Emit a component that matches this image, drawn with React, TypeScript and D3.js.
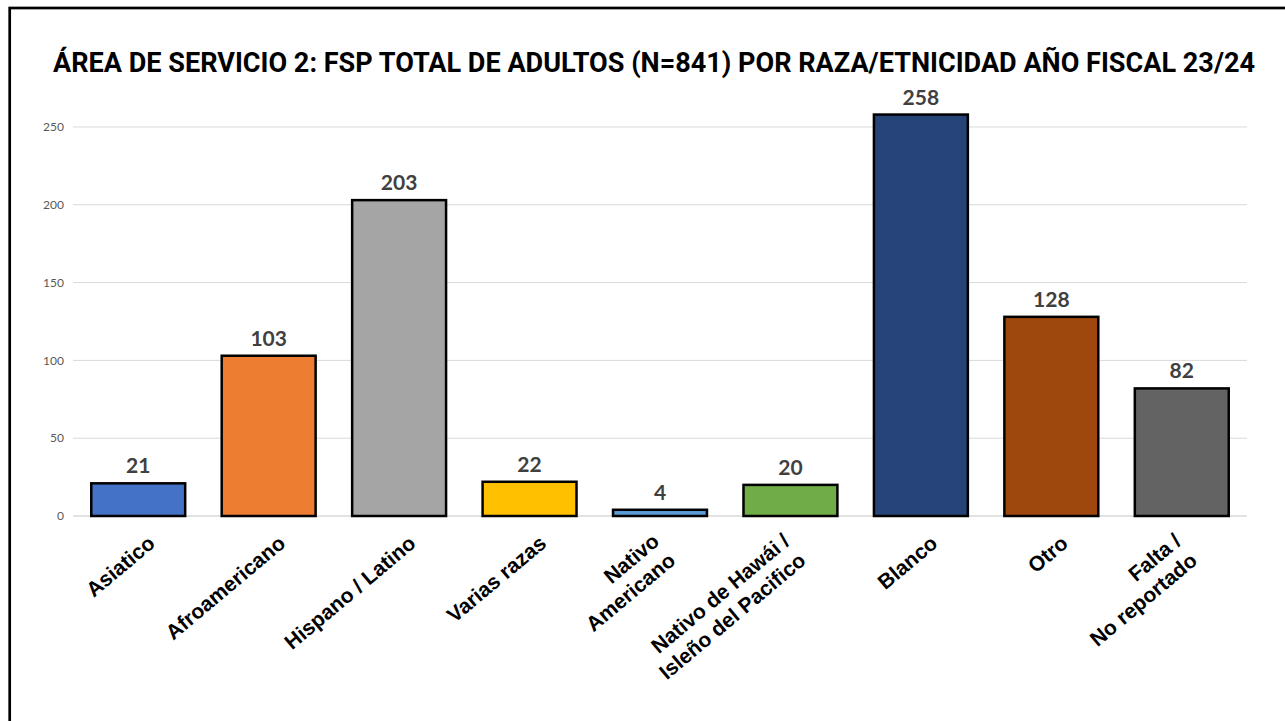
import React from "react";
import * as d3 from "d3";

const categories = [
  "Asiatico",
  "Afroamericano",
  "Hispano / Latino",
  "Varias razas",
  "Nativo Americano",
  "Nativo de Hawái / Isleño del Pacifico",
  "Blanco",
  "Otro",
  "Falta / No reportado",
];
const labelLines = [
  ["Asiatico"],
  ["Afroamericano"],
  ["Hispano / Latino"],
  ["Varias razas"],
  ["Nativo", "Americano"],
  ["Nativo de Hawái /", "Isleño del Pacifico"],
  ["Blanco"],
  ["Otro"],
  ["Falta /", "No reportado"],
];
const values = [21, 103, 203, 22, 4, 20, 258, 128, 82];
const colors = [
  "#4472C4",
  "#ED7D31",
  "#A5A5A5",
  "#FFC000",
  "#5B9BD5",
  "#70AD47",
  "#264478",
  "#9E480E",
  "#636363",
];
const yTicks = [0, 50, 100, 150, 200, 250];
const title =
  "ÁREA DE SERVICIO 2: FSP TOTAL DE ADULTOS (N=841) POR RAZA/ETNICIDAD AÑO FISCAL 23/24";

const W = 1285;
const H = 721;

export default function App() {
  const x = d3
    .scaleBand<string>()
    .domain(categories)
    .range([73, 1247])
    .paddingInner(0.28)
    .paddingOuter(0.14);
  const y = d3.scaleLinear().domain([0, 250]).range([516, 127]);

  return (
    <svg
      width={W}
      height={H}
      style={{ position: "absolute", left: 0, top: 0, background: "#fff" }}
    >
      <rect x={0} y={0} width={W} height={H} fill="#fff" />
      <rect
        x={9.7}
        y={8}
        width={1400}
        height={900}
        fill="none"
        stroke="#000"
        strokeWidth={2.7}
      />
      <text
        x={654}
        y={72}
        textAnchor="middle"
        fontFamily="Roboto, 'Liberation Sans', sans-serif"
        fontWeight={700}
        fontSize={27.5}
        textLength={1202}
        lengthAdjust="spacingAndGlyphs"
        fill="#000"
      >
        {title}
      </text>
      {yTicks.map((t) => (
        <g key={t}>
          <line
            x1={73}
            x2={1247}
            y1={y(t)}
            y2={y(t)}
            stroke="#d9d9d9"
            strokeWidth={t === 0 ? 1.5 : 1}
          />
          <text
            x={64}
            y={y(t)}
            dy="0.35em"
            textAnchor="end"
            fontFamily="Lato, 'Open Sans', sans-serif"
            fontSize={12}
            fill="#595959"
          >
            {t}
          </text>
        </g>
      ))}
      {categories.map((c, i) => {
        const bx = x(c) as number;
        const bw = x.bandwidth();
        const cx = bx + bw / 2;
        const multi = labelLines[i].length > 1;
        const ox = cx + (multi ? -9 : 8.4);
        const oy = multi ? 532 : 534;
        return (
          <g key={c}>
            <rect
              x={bx}
              y={y(values[i])}
              width={bw}
              height={y(0) - y(values[i])}
              fill={colors[i]}
              stroke="#000"
              strokeWidth={2.5}
            />
            <text
              x={cx}
              y={y(values[i]) - 10}
              textAnchor="middle"
              fontFamily="Lato, 'Open Sans', sans-serif"
              fontWeight={700}
              fontSize={21}
              fill="#404040"
            >
              {values[i]}
            </text>
            <g transform={`translate(${ox},${oy}) rotate(-40)`}>
              {labelLines[i].map((ln, j) => (
                <text
                  key={j}
                  x={0}
                  y={15 + j * 25}
                  textAnchor="end"
                  fontFamily="'Liberation Sans', Arial, sans-serif"
                  fontWeight={700}
                  fontSize={21}
                  fill="#000"
                >
                  {ln}
                </text>
              ))}
            </g>
          </g>
        );
      })}
    </svg>
  );
}
